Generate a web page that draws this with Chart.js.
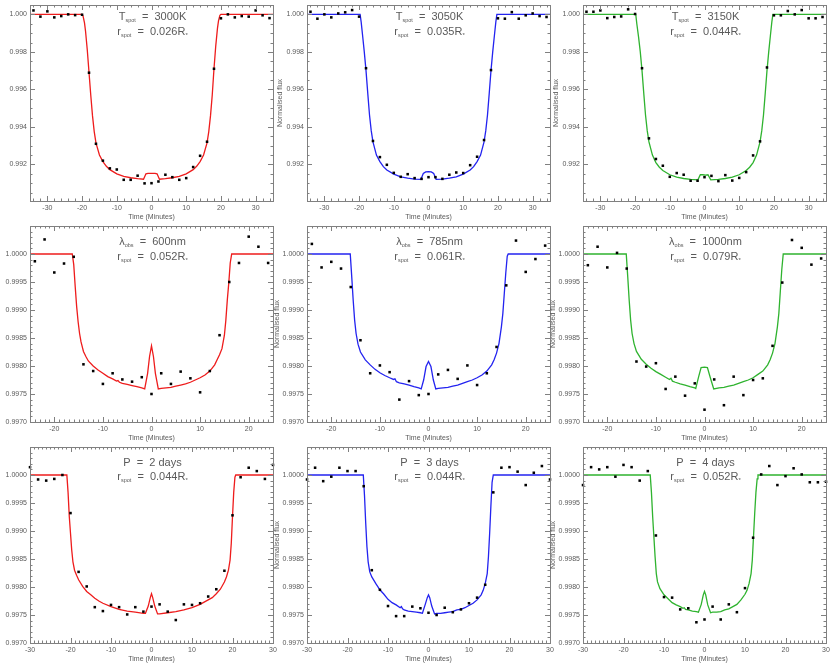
<!DOCTYPE html>
<html><head><meta charset="utf-8">
<script src="https://cdn.jsdelivr.net/npm/chart.js@4.4.1/dist/chart.umd.min.js"></script>
<style>
html,body{margin:0;padding:0;background:#fff;}
body{position:relative;width:830px;height:664px;overflow:hidden;}
canvas{position:absolute;}
</style></head><body>
<script>
// ================= DATA =================
// observation times (minutes)
const obsTimeR1 = [-34,-32,-30,-28,-26,-24,-22,-20,-18,-16,-14,-12,-10,-8,-6,-4,-2,0,2,4,6,8,10,12,14,16,18,20,22,24,26,28,30,32,34];
const obsTimeR2 = [-24,-22,-20,-18,-16,-14,-12,-10,-8,-6,-4,-2,0,2,4,6,8,10,12,14,16,18,20,22,24];
const obsTimeR3 = [-30,-28,-26,-24,-22,-20,-18,-16,-14,-12,-10,-8,-6,-4,-2,0,2,4,6,8,10,12,14,16,18,20,22,24,26,28,30];

// observed normalised flux
const obs3000K = [1.00021,0.99988,1.00016,0.99984,0.99991,1.00000,0.99996,0.99998,0.99689,0.99310,0.99220,0.99179,0.99173,0.99118,0.99118,0.99140,0.99099,0.99100,0.99109,0.99145,0.99132,0.99118,0.99127,0.99186,0.99246,0.99321,0.99710,0.99979,1.00000,0.99984,0.99991,0.99988,1.00021,0.99995,0.99980];
const obs3050K = [1.00014,0.99977,1.00000,0.99984,1.00005,1.00011,1.00023,0.99988,0.99713,0.99325,0.99239,0.99198,0.99155,0.99134,0.99148,0.99127,0.99123,0.99132,0.99132,0.99123,0.99145,0.99157,0.99154,0.99196,0.99241,0.99330,0.99703,0.99979,0.99977,1.00012,0.99977,0.99995,1.00005,0.99991,0.99986];
const obs3150K = [1.00014,1.00014,1.00021,0.99980,0.99986,0.99989,1.00027,1.00002,0.99713,0.99339,0.99229,0.99193,0.99134,0.99154,0.99145,0.99113,0.99113,0.99132,0.99139,0.99111,0.99143,0.99114,0.99128,0.99159,0.99248,0.99323,0.99717,0.99995,0.99995,1.00018,1.00000,1.00023,0.99979,0.99979,0.99986];
const obs600nm = [0.99987,1.00026,0.99967,0.99983,0.99995,0.99803,0.99791,0.99768,0.99787,0.99776,0.99772,0.99780,0.99750,0.99787,0.99768,0.99790,0.99778,0.99753,0.99791,0.99855,0.99950,0.99984,1.00031,1.00013,0.99984];
const obs785nm = [1.00018,0.99976,0.99986,0.99974,0.99941,0.99846,0.99787,0.99801,0.99789,0.99740,0.99773,0.99748,0.99750,0.99785,0.99793,0.99777,0.99801,0.99766,0.99787,0.99834,0.99944,1.00024,0.99968,0.99991,1.00015];
const obs1000nm = [0.99980,1.00013,0.99976,1.00002,0.99974,0.99808,0.99799,0.99805,0.99759,0.99781,0.99747,0.99769,0.99722,0.99776,0.99730,0.99781,0.99748,0.99775,0.99778,0.99836,0.99949,1.00025,1.00011,0.99981,0.99992];
const obsP2 = [1.00014,0.99992,0.99990,0.99993,1.00000,0.99932,0.99827,0.99801,0.99764,0.99757,0.99768,0.99764,0.99751,0.99764,0.99756,0.99765,0.99769,0.99756,0.99741,0.99769,0.99768,0.99771,0.99783,0.99796,0.99829,0.99928,0.99996,1.00013,1.00007,0.99993,1.00018];
const obsP3 = [0.99992,1.00013,0.99989,0.99997,1.00013,1.00007,1.00007,0.99980,0.99830,0.99795,0.99766,0.99748,0.99748,0.99765,0.99762,0.99754,0.99750,0.99763,0.99755,0.99760,0.99771,0.99781,0.99804,0.99969,1.00013,1.00014,1.00006,0.99982,1.00004,1.00016,0.99992];
const obsP4 = [0.99982,1.00014,1.00010,1.00014,0.99997,1.00018,1.00014,0.99990,1.00007,0.99892,0.99782,0.99781,0.99760,0.99762,0.99737,0.99742,0.99765,0.99742,0.99769,0.99755,0.99798,0.99888,1.00001,1.00016,0.99982,0.99998,1.00012,1.00001,0.99987,0.99987,0.99988];

// model light curves (time, flux)
const modT3000K = [-35,-20,-19.7,-19.3,-19,-18.5,-18,-17.5,-17,-16.5,-16,-15,-14,-13,-12,-10,-8,-6,-4,-2.3,-1.6,-1,0,1,1.6,2.3,4,6,8,10,12,13,14,15,16,16.5,17,17.5,18,18.5,19,19.3,19.7,20,35];
const modF3000K = [1,1,0.9999,0.99955,0.9991,0.9981,0.9969,0.9957,0.9946,0.99375,0.99315,0.9925,0.99215,0.9919,0.99172,0.9915,0.99136,0.99129,0.99124,0.99121,0.9915,0.99152,0.99152,0.99152,0.9915,0.99121,0.99124,0.99129,0.99136,0.9915,0.99172,0.9919,0.99215,0.9925,0.99315,0.99375,0.9946,0.9957,0.9971,0.9983,0.99925,0.99965,0.99995,1,1];
const modT3050K = [-35,-19.7,-19.4,-19,-18.5,-18,-17.5,-17,-16.5,-16,-15,-14,-13,-12,-10,-8,-6,-4,-2.2,-1.5,-0.8,0,0.8,1.5,2.2,4,6,8,10,12,13,14,15,16,16.5,17,17.5,18,18.5,19,19.4,19.7,35];
const modF3050K = [1,1,0.9996,0.9989,0.998,0.997,0.9958,0.99465,0.9938,0.9932,0.9925,0.99215,0.99188,0.9917,0.99148,0.99134,0.99127,0.99122,0.9912,0.99152,0.9916,0.99162,0.9916,0.99152,0.9912,0.99122,0.99127,0.99134,0.99148,0.9917,0.99188,0.99215,0.9925,0.9932,0.9938,0.99465,0.9958,0.997,0.998,0.9989,0.9996,1,1];
const modT3150K = [-35,-19.8,-19.5,-19,-18.5,-18,-17.5,-17,-16.5,-16,-15,-14,-13,-12,-10,-8,-6,-4,-1.9,-1.2,-0.5,0.3,1,1.8,4,6,8,10,12,13,14,15,16,16.5,17,17.5,18,18.5,19,19.4,19.7,35];
const modF3150K = [1,1,0.9995,0.9988,0.998,0.997,0.9958,0.99465,0.9938,0.9932,0.9925,0.9921,0.99185,0.99168,0.99145,0.99132,0.99125,0.9912,0.99118,0.99145,0.99145,0.99143,0.99145,0.99118,0.9912,0.99125,0.99132,0.99145,0.99168,0.99185,0.9921,0.9925,0.9932,0.9938,0.99465,0.9958,0.997,0.998,0.9989,0.9996,1,1];
const modT600nm = [-25,-16.3,-16.0,-15.7,-15.4,-15.1,-14.8,-14.5,-14,-13.5,-13,-12,-11,-10,-9,-8,-7.2,-6.9,-6.6,-6,-5,-4,-3,-2,-1.4,-0.8,-0.4,0,0.4,0.8,1.4,2,3,4,5,6,7,8,9,10,11,12,13,13.5,14,14.5,15,15.3,15.6,15.9,16.2,16.5,25];
const modF600nm = [1,1,0.99981,0.99942,0.99906,0.99879,0.99858,0.99843,0.99826,0.99817,0.99809,0.998,0.99793,0.99787,0.99781,0.99777,0.99773,0.99774,0.99771,0.99769,0.99767,0.99765,0.99763,0.99761,0.99759,0.99787,0.99817,0.99836,0.99817,0.99787,0.99759,0.9976,0.99761,0.99762,0.99764,0.99766,0.99768,0.99771,0.99775,0.99779,0.99784,0.99791,0.99802,0.99811,0.9982,0.99831,0.99855,0.99882,0.99918,0.99948,0.99984,1,1];
const modT785nm = [-25,-16.1,-15.8,-15.5,-15.2,-14.9,-14.5,-14,-13,-12,-11,-10,-9,-8,-7.2,-6.9,-6.6,-6,-5,-4,-3,-2,-1.5,-1,-0.5,0,0.5,1,1.5,2,3,4,5,6,7,8,9,10,11,12,13,13.5,14,14.5,15,15.3,15.6,15.9,16.2,16.4,25];
const modF785nm = [1,1,0.9996,0.99918,0.99882,0.99858,0.99839,0.99825,0.99811,0.99802,0.99794,0.99788,0.99783,0.99779,0.99776,0.99777,0.99772,0.9977,0.99768,0.99766,0.99763,0.99761,0.99759,0.99775,0.99799,0.99808,0.99799,0.99775,0.99759,0.9976,0.99761,0.99762,0.99764,0.99766,0.99769,0.99772,0.99775,0.99779,0.99784,0.99791,0.99802,0.99811,0.99823,0.9984,0.9987,0.99894,0.9993,0.99966,0.99996,1,1];
const modT1000nm = [-25,-16.1,-15.8,-15.5,-15.2,-14.9,-14.5,-14,-13,-12,-11,-10,-9,-8,-7.2,-6.9,-6.6,-6,-5,-4,-3,-2,-1.8,-1.2,-0.7,0,0.6,1.2,1.9,3,4,5,6,7,8,9,10,11,12,13,13.5,14,14.5,15,15.3,15.6,15.9,16.2,25];
const modF1000nm = [1,1,0.9996,0.99918,0.99882,0.99858,0.9984,0.99826,0.99812,0.99803,0.99796,0.9979,0.99785,0.9978,0.99776,0.99778,0.99773,0.99771,0.99768,0.99766,0.99763,0.99761,0.9976,0.99781,0.99797,0.99798,0.99797,0.99779,0.99759,0.99761,0.99762,0.99764,0.99766,0.99769,0.99772,0.99775,0.99779,0.99785,0.99791,0.99802,0.99811,0.99823,0.9984,0.9987,0.99894,0.99933,0.99972,1,1];
const modTP2 = [-30,-20.9,-20.6,-20.3,-20,-19.7,-19.4,-19,-18.5,-18,-17,-16,-15,-14,-13,-12,-10,-8,-6,-4,-2,-1.5,-0.8,-0.3,0,0.3,0.8,1.5,2,4,6,8,10,12,14,15,16,17,18,18.5,19,19.4,19.7,20,20.3,20.6,20.8,30];
const modFP2 = [1,1,0.99969,0.99926,0.99896,0.99866,0.99845,0.9983,0.99821,0.99813,0.99801,0.99792,0.99786,0.9978,0.99775,0.99771,0.99765,0.9976,0.99757,0.99755,0.99753,0.99753,0.99766,0.99781,0.99788,0.99781,0.99766,0.99752,0.99752,0.99754,0.99756,0.99759,0.99763,0.99769,0.99777,0.99781,0.99788,0.99796,0.99809,0.99818,0.9983,0.99848,0.99878,0.99926,0.99969,0.99996,1,1];
const modTP3 = [-30,-16.1,-15.8,-15.5,-15.2,-14.9,-14.5,-14,-13,-12,-11,-10,-9,-8,-7,-6.7,-6.4,-6,-5,-4,-3,-2,-1.5,-0.8,-0.3,0,0.3,0.8,1.5,2,3,4,5,6,7,8,9,10,11,12,13,13.5,14,14.5,14.8,15.1,15.4,15.7,16,30];
const modFP3 = [1,1,0.99963,0.99914,0.99872,0.99845,0.99827,0.99818,0.99806,0.99795,0.99787,0.99778,0.99772,0.99768,0.99763,0.99765,0.99761,0.99759,0.99757,0.99756,0.99755,0.99754,0.99753,0.99769,0.99781,0.99786,0.99781,0.99766,0.99752,0.99753,0.99753,0.99754,0.99755,0.99756,0.99759,0.9976,0.99763,0.99767,0.99771,0.99777,0.99786,0.99794,0.99806,0.99824,0.99854,0.99896,0.99944,0.99987,1,1];
const modTP4 = [-30,-13.4,-13.1,-12.8,-12.5,-12.2,-11.9,-11.6,-11,-10,-9,-8,-7,-6,-5.3,-5,-4.7,-4,-3,-2,-1.5,-0.8,-0.3,0,0.3,0.8,1.5,2,3,4,5,6,7,8,9,10,10.5,11,11.5,11.8,12.1,12.4,12.7,13,13.2,30];
const modFP4 = [1,1,0.99969,0.99926,0.9989,0.99854,0.99824,0.99809,0.99797,0.99786,0.99779,0.99772,0.99768,0.99765,0.99762,0.99763,0.9976,0.99759,0.99757,0.99756,0.99755,0.99769,0.99786,0.99792,0.99786,0.99768,0.99754,0.99755,0.99755,0.99756,0.99759,0.99761,0.99765,0.99769,0.99777,0.99787,0.99794,0.99806,0.99824,0.99848,0.9989,0.99932,0.99969,0.99993,1,1];

// tick labels
const xTickLabelsR1 = [-30,-20,-10,0,10,20,30];
const xTickLabelsR2 = [-20,-10,0,10,20];
const xTickLabelsR3 = [-30,-20,-10,0,10,20,30];
const yTickLabelsR1 = ['0.992','0.994','0.996','0.998','1.000'];
const yTickLabelsR23 = ['0.9970','0.9975','0.9980','0.9985','0.9990','0.9995','1.0000'];

// annotation texts
const paramSymbol = ['T','T','T','λ','λ','λ','P','P','P'];
const paramSub    = ['spot','spot','spot','obs','obs','obs','','',''];
const paramValue  = ['3000K','3050K','3150K','600nm','785nm','1000nm','2 days','3 days','4 days'];
const spotRadius  = ['0.026','0.035','0.044','0.052','0.061','0.079','0.044','0.044','0.052'];

const xTitle = 'Time (Minutes)';
const yTitle = 'Normalised flux';

// ================= LAYOUT / STYLE =================
const obsSets = [obs3000K,obs3050K,obs3150K,obs600nm,obs785nm,obs1000nm,obsP2,obsP3,obsP4];
const modTSets = [modT3000K,modT3050K,modT3150K,modT600nm,modT785nm,modT1000nm,modTP2,modTP3,modTP4];
const modFSets = [modF3000K,modF3050K,modF3150K,modF600nm,modF785nm,modF1000nm,modFP2,modFP3,modFP4];
const obsTimes = [obsTimeR1, obsTimeR2, obsTimeR3];
const xTickSets = [xTickLabelsR1, xTickLabelsR2, xTickLabelsR3];
const yTickSets = [yTickLabelsR1, yTickLabelsR23, yTickLabelsR23];

const colLeft = [30, 307, 583];
const rowTop = [5, 226, 447];
const PW = 243, PH = 196, AXW = 34, AXH = 22, PADT = 5, PADR = 4;
const lineColors = ['#ee1c1c', '#2323f0', '#2fb32f'];
const rows = [
  {xMin:-35, xMax:35, xMajor:10, xMinor:2, yMin:0.99005, yMax:1.0005, yMajor:0.002, yMinor:0.0005, l1:10.5, l2:25.7, yTitlePad:2.8},
  {xMin:-25, xMax:25, xMajor:10, xMinor:1, yMin:0.997, yMax:1.0005, yMajor:0.0005, yMinor:0.0001, l1:15, l2:30, yTitlePad:0},
  {xMin:-30, xMax:30, xMajor:10, xMinor:1, yMin:0.997, yMax:1.0005, yMajor:0.0005, yMinor:0.0001, l1:15.2, l2:29.4, yTitlePad:0}
];
const FONT = '"Liberation Sans", Arial, sans-serif';
const TXT = '#5a5a5a';
const AXC = '#808080';

function drawParts(ctx, cx, cyCenter, parts) {
  let total = 0;
  parts.forEach(p => { ctx.font = p.s + 'px ' + FONT; p.w = ctx.measureText(p.t).width; total += p.w; });
  let x = cx - total / 2;
  const base = cyCenter + 4;
  ctx.textBaseline = 'alphabetic';
  ctx.textAlign = 'left';
  parts.forEach(p => { ctx.font = p.s + 'px ' + FONT; ctx.fillText(p.t, x, base + (p.dy || 0)); x += p.w; });
}

const framePlugin = {
  id: 'frame',
  afterDatasetsDraw(chart) {
    const o = chart.options.plugins.frame;
    const {ctx, chartArea: a} = chart;
    const xs = chart.scales.x, ys = chart.scales.y;
    ctx.save();
    ctx.strokeStyle = AXC;
    ctx.lineWidth = 1;
    ctx.strokeRect(Math.round(a.left) + 0.5, Math.round(a.top) + 0.5, Math.round(a.right - a.left), Math.round(a.bottom - a.top));
    ctx.beginPath();
    let k0 = Math.ceil(o.xMin / o.xMinor - 1e-9), k1 = Math.floor(o.xMax / o.xMinor + 1e-9);
    for (let k = k0; k <= k1; k++) {
      const v = k * o.xMinor;
      const r = v / o.xMajor;
      const len = Math.abs(r - Math.round(r)) < 1e-6 ? 5 : 2.5;
      const px = Math.round(xs.getPixelForValue(v)) + 0.5;
      ctx.moveTo(px, a.bottom); ctx.lineTo(px, a.bottom - len);
      ctx.moveTo(px, a.top); ctx.lineTo(px, a.top + len);
    }
    k0 = Math.ceil(o.yMin / o.yMinor - 1e-6); k1 = Math.floor(o.yMax / o.yMinor + 1e-6);
    for (let k = k0; k <= k1; k++) {
      const v = k * o.yMinor;
      const r = v / o.yMajor;
      const len = Math.abs(r - Math.round(r)) < 1e-4 ? 5 : 2.5;
      const py = Math.round(ys.getPixelForValue(v)) + 0.5;
      ctx.moveTo(a.left, py); ctx.lineTo(a.left + len, py);
      ctx.moveTo(a.right, py); ctx.lineTo(a.right - len, py);
    }
    ctx.stroke();
    ctx.fillStyle = TXT;
    const cx = (a.left + a.right) / 2 + 1;
    const l1 = [{t:o.sym, s:11}];
    if (o.sub) l1.push({t:o.sub, s:5.5, dy:2});
    l1.push({t:'  =  ', s:11}, {t:o.val, s:11});
    drawParts(ctx, cx, a.top + o.l1, l1);
    drawParts(ctx, cx, a.top + o.l2, [
      {t:'r', s:11}, {t:'spot', s:5.5, dy:2}, {t:'  =  ', s:11}, {t:o.rad + 'R', s:11}, {t:'*', s:6, dy:2}
    ]);
    ctx.restore();
  }
};

for (let i = 0; i < 9; i++) {
  const r = Math.floor(i / 3), c = i % 3;
  const R = rows[r];
  const cv = document.createElement('canvas');
  const W = AXW + PW + PADR, H = PADT + PH + AXH;
  cv.width = W; cv.height = H;
  cv.style.width = W + 'px'; cv.style.height = H + 'px';
  cv.style.left = (colLeft[c] - AXW) + 'px';
  cv.style.top = (rowTop[r] - PADT) + 'px';
  document.body.appendChild(cv);

  const obsPts = obsTimes[r].map((t, j) => ({x: t, y: obsSets[i][j]}));
  const modPts = modTSets[i].map((t, j) => ({x: t, y: modFSets[i][j]}));
  const xt = xTickSets[r];
  const yt = yTickSets[r];
  const dec = yt[0].split('.')[1].length;
  const titlePad = c === 0 ? -6 : R.yTitlePad;

  new Chart(cv, {
    type: 'scatter',
    data: {
      datasets: [
        {data: obsPts, pointStyle: 'rect', pointRadius: 1.8, backgroundColor: '#000', borderWidth: 0, clip: false},
        {data: modPts, showLine: true, borderColor: lineColors[c], borderWidth: 1.3, pointRadius: 0, fill: false, tension: 0}
      ]
    },
    options: {
      responsive: false, animation: false, devicePixelRatio: 1,
      layout: {padding: {top: PADT, right: PADR, left: 0, bottom: 0}},
      events: [],
      plugins: {
        legend: {display: false}, tooltip: {enabled: false},
        frame: {xMin: R.xMin, xMax: R.xMax, xMajor: R.xMajor, xMinor: R.xMinor, yMin: R.yMin, yMax: R.yMax,
                yMajor: R.yMajor, yMinor: R.yMinor, l1: R.l1, l2: R.l2,
                sym: paramSymbol[i], sub: paramSub[i], val: paramValue[i], rad: spotRadius[i]}
      },
      scales: {
        x: {
          type: 'linear', min: R.xMin, max: R.xMax,
          grid: {display: false, drawTicks: false}, border: {display: false},
          ticks: {font: {family: FONT, size: 7}, color: TXT, padding: 3, maxRotation: 0, autoSkip: false,
                  callback: v => String(v)},
          afterBuildTicks: s => { s.ticks = xt.map(v => ({value: v})); },
          afterFit: s => { s.height = AXH; s.paddingLeft = 0; s.paddingRight = 0; },
          title: {display: true, text: xTitle, font: {family: FONT, size: 7}, color: TXT, padding: {top: 0, bottom: 2}}
        },
        y: {
          type: 'linear', min: R.yMin, max: R.yMax,
          grid: {display: false, drawTicks: false}, border: {display: false},
          ticks: {font: {family: FONT, size: 7}, color: TXT, padding: 3, autoSkip: false,
                  callback: v => v.toFixed(dec)},
          afterBuildTicks: s => { s.ticks = yt.map(v => ({value: parseFloat(v)})); },
          afterFit: s => { s.width = AXW; s.paddingTop = 0; s.paddingBottom = 0; },
          title: {display: true, text: yTitle, font: {family: FONT, size: 7}, color: TXT, padding: {top: titlePad, bottom: 0}}
        }
      }
    },
    plugins: [framePlugin]
  });
}
</script>
</body></html>
